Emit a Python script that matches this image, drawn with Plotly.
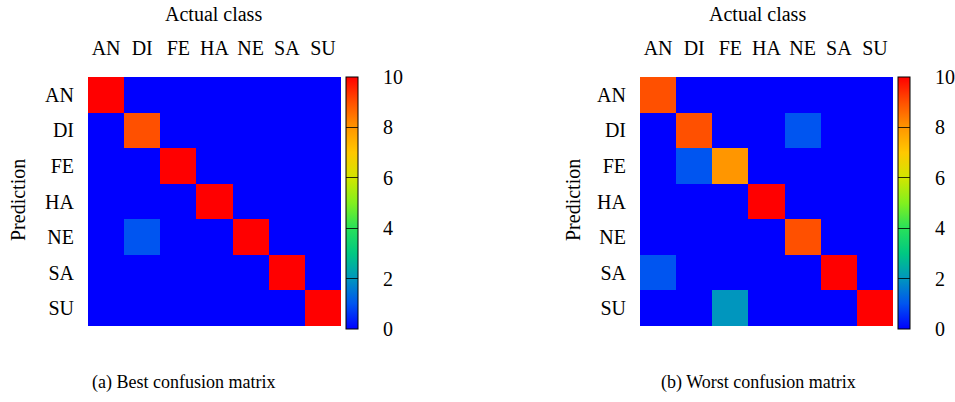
import plotly.graph_objects as go

classes = ["AN", "DI", "FE", "HA", "NE", "SA", "SU"]

# rows = prediction, columns = actual class
best_matrix = [
    [10, 0, 0, 0, 0, 0, 0],
    [0, 9, 0, 0, 0, 0, 0],
    [0, 0, 10, 0, 0, 0, 0],
    [0, 0, 0, 10, 0, 0, 0],
    [0, 1, 0, 0, 10, 0, 0],
    [0, 0, 0, 0, 0, 10, 0],
    [0, 0, 0, 0, 0, 0, 10],
]
worst_matrix = [
    [9, 0, 0, 0, 0, 0, 0],
    [0, 9, 0, 0, 1, 0, 0],
    [0, 1, 8, 0, 0, 0, 0],
    [0, 0, 0, 10, 0, 0, 0],
    [0, 0, 0, 0, 9, 0, 0],
    [1, 0, 0, 0, 0, 10, 0],
    [0, 0, 2, 0, 0, 0, 10],
]
cbar_ticks = [0, 2, 4, 6, 8, 10]
captions = ["(a) Best confusion matrix", "(b) Worst confusion matrix"]

colorscale = [
    [0.0, "rgb(0,0,255)"],
    [0.1, "rgb(0,85,240)"],
    [0.2, "rgb(0,150,190)"],
    [0.3, "rgb(0,200,130)"],
    [0.4, "rgb(40,225,90)"],
    [0.5, "rgb(130,240,30)"],
    [0.6, "rgb(210,230,0)"],
    [0.7, "rgb(255,200,0)"],
    [0.8, "rgb(255,150,0)"],
    [0.9, "rgb(255,80,0)"],
    [1.0, "rgb(255,0,0)"],
]

W, H = 955, 402
FONT = "Liberation Serif"
fs = 20

def px_x(v):
    return v / W

def px_y(v):
    return 1 - v / H

panels = [
    dict(z=best_matrix, x0=88, x1=341, cb=346),
    dict(z=worst_matrix, x0=640, x1=893, cb=898),
]
ytop, ybot = 77, 326

fig = go.Figure()
nbsp = "\u00a0" * 4
for i, p in enumerate(panels):
    xa = "x" if i == 0 else "x2"
    ya = "y" if i == 0 else "y2"
    fig.add_trace(go.Heatmap(
        z=p["z"], x=classes, y=classes,
        zmin=0, zmax=10, colorscale=colorscale,
        xaxis=xa, yaxis=ya, xgap=0, ygap=0,
        colorbar=dict(
            x=px_x(p["cb"]), xanchor="left", xref="paper",
            y=px_y((ytop + 329) / 2), yanchor="middle",
            len=(329 - ytop) / H, lenmode="fraction",
            thickness=12, thicknessmode="pixels",
            outlinecolor="black", outlinewidth=1,
            ticks="inside", ticklen=12, tickcolor="rgba(0,0,0,0.8)", tickwidth=1,
            tickvals=cbar_ticks, ticktext=[nbsp + str(t) for t in cbar_ticks],
            tickfont=dict(family=FONT, size=fs, color="black"),
            xpad=0, ypad=0,
        ),
    ))
    axis_x = dict(
        domain=[px_x(p["x0"]), px_x(p["x1"])], side="top",
        showgrid=False, zeroline=False, showline=False, ticks="",
        tickfont=dict(family=FONT, size=fs, color="black"),
        ticklabelstandoff=17, anchor=ya, fixedrange=True,
    )
    axis_y = dict(
        domain=[px_y(ybot), px_y(ytop)], autorange="reversed",
        showgrid=False, zeroline=False, showline=False, ticks="",
        tickfont=dict(family=FONT, size=fs, color="black"),
        ticklabelstandoff=13, anchor=xa, fixedrange=True,
    )
    if i == 0:
        fig.update_layout(xaxis=axis_x, yaxis=axis_y)
    else:
        fig.update_layout(xaxis2=axis_x, yaxis2=axis_y)

annos = []
title_x = [213, 757]
pred_x = [18, 573]
cap_x = [183, 758]
for i in range(2):
    annos.append(dict(text="Actual class", x=px_x(title_x[i]), y=px_y(14), xref="paper", yref="paper",
                      showarrow=False, xanchor="center", yanchor="middle",
                      font=dict(family=FONT, size=fs, color="black")))
    annos.append(dict(text="Prediction", x=px_x(pred_x[i]), y=px_y(200), xref="paper", yref="paper",
                      showarrow=False, xanchor="center", yanchor="middle", textangle=-90,
                      font=dict(family=FONT, size=fs, color="black")))
    annos.append(dict(text=captions[i], x=px_x(cap_x[i]), y=px_y(382), xref="paper", yref="paper",
                      showarrow=False, xanchor="center", yanchor="middle",
                      font=dict(family=FONT, size=18, color="black")))

fig.update_layout(
    width=W, height=H, margin=dict(l=0, r=0, t=0, b=0, autoexpand=False),
    paper_bgcolor="white", plot_bgcolor="white",
    annotations=annos, showlegend=False,
)

fig.write_html("out.html", config={"displayModeBar": False},
               post_script="document.body.style.margin='0';document.body.style.overflow='hidden';")
